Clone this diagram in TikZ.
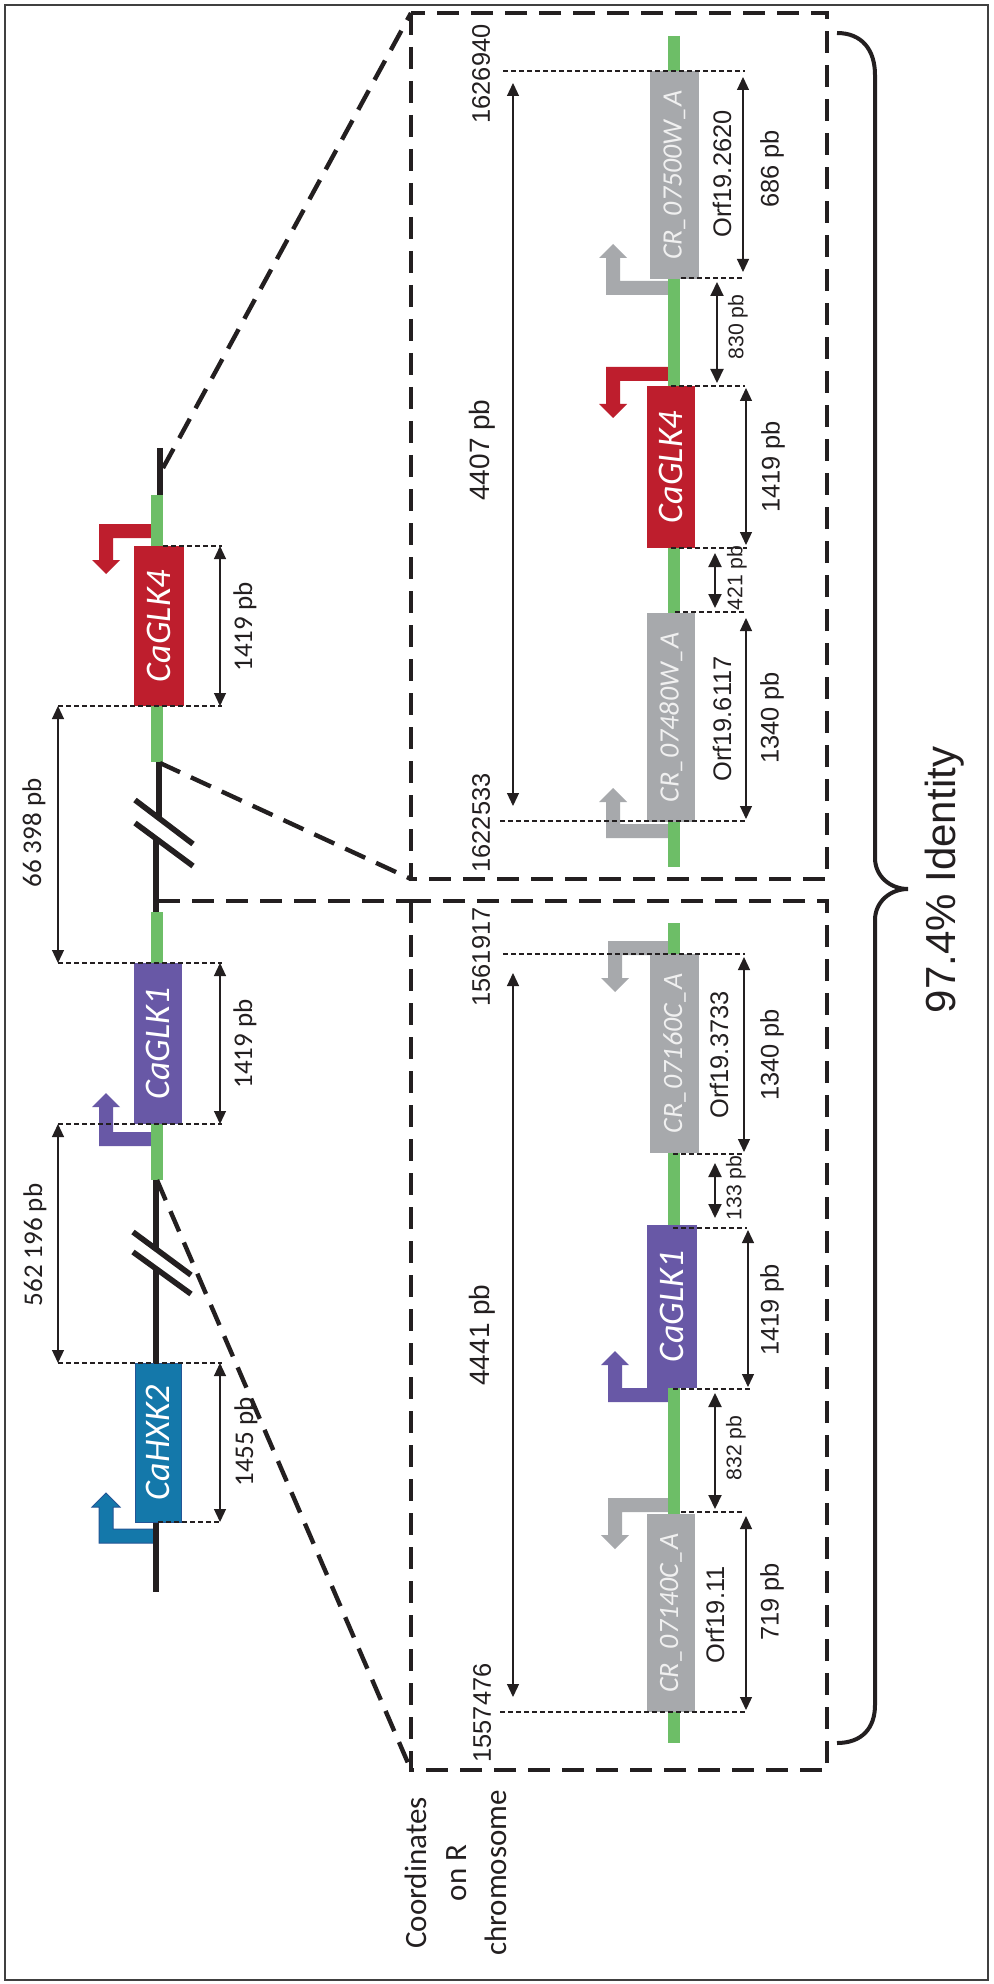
\documentclass[tikz,border=0pt]{standalone}
\usepackage{fontspec}
\setmainfont{Liberation Sans}
\newfontfamily\calfont{Carlito}
\usetikzlibrary{arrows.meta}
\definecolor{chrgreen}{RGB}{109,190,103}
\definecolor{genered}{RGB}{190,30,45}
\definecolor{genepurple}{RGB}{104,88,166}
\definecolor{geneblue}{RGB}{20,120,170}
\definecolor{geneblueedge}{RGB}{35,85,150}
\definecolor{genegray}{RGB}{167,169,172}
\definecolor{inkblack}{RGB}{35,31,32}
\newcommand{\promarrow}[6]{%
\fill[#1] (#2,#4) -- (#3,#4) -- (#3,#6) -- ({#3-7},#6) -- ({#3+7},{#6+14*#5}) -- ({#3+21},#6) -- ({#3+14},#6) -- ({#3+14},{#4+14*#5}) -- (#2,{#4+14*#5}) -- cycle;}
\tikzset{
  chrline/.style={line width=3pt, draw=inkblack},
  greenseg/.style={line width=6pt, draw=chrgreen},
  genebox/.style={rotate=90, inner sep=0pt, anchor=center, font=\calfont\itshape\fontsize{18}{20}\selectfont, text=white},
  crbox/.style={rotate=90, inner sep=0pt, anchor=center, fill=genegray, font=\calfont\itshape\fontsize{14}{16}\selectfont, text=black!6},
  bigdash/.style={line width=2.2pt, draw=inkblack, dash pattern=on 11pt off 6pt},
  thindash/.style={line width=0.6pt, draw=inkblack, dash pattern=on 2.5pt off 1.5pt},
  dimline/.style={line width=0.6pt, draw=inkblack, {Triangle[length=6.5pt,width=6pt]}-{Triangle[length=6.5pt,width=6pt]}},
  dimthick/.style={line width=1pt, draw=inkblack, {Triangle[length=7pt,width=6.5pt]}-{Triangle[length=7pt,width=6.5pt]}},
  lnum/.style={rotate=90, inner sep=0pt, text=inkblack, font=\calfont\fontsize{13.5}{16}\selectfont},
  cnum/.style={rotate=90, inner sep=0pt, text=inkblack, font=\fontsize{12.7}{15}\selectfont},
  bignum/.style={rotate=90, inner sep=0pt, text=inkblack, font=\fontsize{14}{16}\selectfont},
  smallnum/.style={rotate=90, inner sep=0pt, text=inkblack, font=\fontsize{10.6}{13}\selectfont},
}
\begin{document}
\begin{tikzpicture}[x=0.5pt, y=-0.5pt]
\useasboundingbox (0,0) rectangle (993,1984);
\fill[white] (0,0) rectangle (993,1984);
\draw[line width=1pt, draw=black!75] (5,5) rectangle (988,1980);

% ---------- left chromosome ----------
\promarrow{genered}{157}{99}{524}{1}{560}
\promarrow{genepurple}{157}{99}{1146}{-1}{1107}
\filldraw[fill=geneblue, draw=geneblueedge, line width=0.5pt] (156,1543) -- (99,1543) -- (99,1507) -- (92,1507) -- (106,1493) -- (120,1507) -- (113,1507) -- (113,1529) -- (156,1529) -- cycle;

\coordinate (c0) at (160,448);
\coordinate (c1) at (160,495);
\draw[chrline] (c0) -- (c1);
\draw[greenseg] (157,495) -- (157,546);
\draw[greenseg] (157,706) -- (157,762);
\draw[chrline] (159,762) -- (159,818);
\draw[chrline] (156,840) -- (156,912);
\draw[greenseg] (157,912) -- (157,963);
\draw[greenseg] (157,1124) -- (157,1180);
\draw[chrline] (156,1180) -- (156,1248);
\draw[chrline] (156,1268) -- (156,1363);
\draw[chrline] (156,1522) -- (156,1592);
% break marks
\draw[line width=2.8pt, draw=inkblack] (135,800) -- (193,844);
\draw[line width=2.8pt, draw=inkblack] (135,823) -- (193,866);
\draw[line width=2.8pt, draw=inkblack] (133,1232) -- (191,1275);
\draw[line width=2.8pt, draw=inkblack] (133,1252) -- (191,1294);

\node[genebox, fill=genered, minimum width=80pt, minimum height=25pt] (glk4) at (159,626) {CaGLK4};
\node[genebox, fill=genepurple, minimum width=80.5pt, minimum height=24pt] (glk1) at (158,1043.5) {CaGLK1};
\node[genebox, fill=geneblue, draw=geneblueedge, line width=0.5pt, minimum width=79.5pt, minimum height=23pt] (hxk2) at (158,1442.5) {CaHXK2};

% left dimension lines
\draw[thindash] (163,546) -- (222,546);
\draw[thindash] (58,706) -- (222,706);
\draw[thindash] (58,963) -- (222,963);
\draw[thindash] (58,1124) -- (222,1124);
\draw[thindash] (58,1363) -- (222,1363);
\draw[thindash] (158,1522) -- (222,1522);
\coordinate (la1) at (220,546); \coordinate (la2) at (220,706);
\coordinate (lb1) at (58,706); \coordinate (lb2) at (58,963);
\coordinate (lc1) at (220,963); \coordinate (lc2) at (220,1124);
\coordinate (ld1) at (58,1124); \coordinate (ld2) at (58,1363);
\coordinate (le1) at (220,1363); \coordinate (le2) at (220,1522);
\draw[dimline] (la1) -- (la2);
\draw[dimline] (lb1) -- (lb2);
\draw[dimline] (lc1) -- (lc2);
\draw[dimline] (ld1) -- (ld2);
\draw[dimline] (le1) -- (le2);
\node[lnum] (t1419a) at (245,627) {1419 pb};
\node[lnum] (t66398) at (34,833) {66 398 pb};
\node[lnum] (t1419b) at (245,1044) {1419 pb};
\node[lnum] (t562196) at (35,1245) {562 196 pb};
\node[lnum] (t1455) at (246,1442) {1455 pb};

% ---------- inset boxes and zoom lines ----------
\coordinate (ubTL) at (411,13);
\coordinate (ubBL) at (411,879);
\coordinate (lbTL) at (411,901);
\coordinate (lbBL) at (411,1770);
\draw[bigdash] (ubTL) rectangle (827,879);
\draw[bigdash] (lbTL) rectangle (827,1770);
\draw[bigdash] (163,468) -- (ubTL);
\draw[bigdash] (160,763) -- (ubBL);
\draw[bigdash] (158,901) -- (lbTL);
\draw[bigdash] (157,1180) -- (lbBL);

% ---------- upper inset ----------
\promarrow{genegray}{674}{606}{295}{-1}{258}
\promarrow{genered}{674}{606}{367}{1}{404}
\promarrow{genegray}{674}{606}{838}{-1}{802}
\draw[greenseg] (674,36) -- (674,867);
\node[crbox, minimum width=104pt, minimum height=24.5pt] (u1) at (674.5,175) {CR\_07500W\_A};
\node[genebox, fill=genered, minimum width=81pt, minimum height=24pt] (u2) at (671,467) {CaGLK4};
\node[crbox, minimum width=104.5pt, minimum height=24pt] (u3) at (671,717.5) {CR\_07480W\_A};

\draw[thindash] (503,71) -- (745,71);
\draw[thindash] (681,278) -- (745,278);
\draw[thindash] (671,386) -- (745,386);
\draw[thindash] (671,548) -- (747,548);
\draw[thindash] (675,612) -- (745,612);
\draw[thindash] (500,821) -- (745,821);
\coordinate (ua1) at (513,83); \coordinate (ua2) at (513,806);
\coordinate (ub1) at (743,77); \coordinate (ub2) at (743,272);
\coordinate (uc1) at (717,282); \coordinate (uc2) at (717,383);
\coordinate (ud1) at (746,388); \coordinate (ud2) at (746,545);
\coordinate (ue1) at (715,553); \coordinate (ue2) at (715,608);
\coordinate (uf1) at (746,618); \coordinate (uf2) at (746,819);
\draw[dimline] (ua1) -- (ua2);
\draw[dimline] (ub1) -- (ub2);
\draw[dimthick] (uc1) -- (uc2);
\draw[dimline] (ud1) -- (ud2);
\draw[dimthick] (ue1) -- (ue2);
\draw[dimline] (uf1) -- (uf2);
\node[cnum] (n1626940) at (481,74) {1626940};
\node[bignum] (n4407) at (482,450) {4407 pb};
\node[cnum] (n1622533) at (481,823) {1622533};
\node[cnum] (orfa) at (722,174) {Orf19.2620};
\node[cnum] (n686) at (772,169) {686 pb};
\node[smallnum] (n830) at (738,327) {830 pb};
\node[cnum] (n1419c) at (773,467) {1419 pb};
\node[smallnum] (n421) at (737,578) {421 pb};
\node[cnum] (orfb) at (722,719) {Orf19.6117};
\node[cnum] (n1340a) at (772,718) {1340 pb};

% ---------- lower inset ----------
\promarrow{genegray}{674}{608}{941}{1}{978}
\promarrow{genepurple}{674}{608}{1402}{-1}{1365}
\promarrow{genegray}{674}{608}{1498}{1}{1535}
\draw[greenseg] (674,923) -- (674,1743);
\node[crbox, minimum width=99.5pt, minimum height=24.5pt] (l1) at (674.5,1053.5) {CR\_07160C\_A};
\node[genebox, fill=genepurple, minimum width=81.5pt, minimum height=25pt] (l2) at (672,1306.5) {CaGLK1};
\node[crbox, minimum width=99pt, minimum height=24pt] (l3) at (671,1613) {CR\_07140C\_A};

\draw[thindash] (503,954) -- (745,954);
\draw[thindash] (673,1154) -- (745,1154);
\draw[thindash] (673,1228) -- (747,1228);
\draw[thindash] (673,1389) -- (751,1389);
\draw[thindash] (681,1512) -- (745,1512);
\draw[thindash] (500,1712) -- (747,1712);
\coordinate (la1i) at (513,973); \coordinate (la2i) at (513,1697);
\coordinate (lb1i) at (744,957); \coordinate (lb2i) at (744,1152);
\coordinate (lc1i) at (715,1163); \coordinate (lc2i) at (715,1218);
\coordinate (ld1i) at (748,1230); \coordinate (ld2i) at (748,1387);
\coordinate (le1i) at (715,1393); \coordinate (le2i) at (715,1509);
\coordinate (lf1i) at (746,1516); \coordinate (lf2i) at (746,1710);
\draw[dimline] (la1i) -- (la2i);
\draw[dimline] (lb1i) -- (lb2i);
\draw[dimthick] (lc1i) -- (lc2i);
\draw[dimline] (ld1i) -- (ld2i);
\draw[dimthick] (le1i) -- (le2i);
\draw[dimline] (lf1i) -- (lf2i);
\node[cnum] (n1561917) at (481,957) {1561917};
\node[bignum] (n4441) at (482,1335) {4441 pb};
\node[cnum] (n1557476) at (482,1713) {1557476};
\node[cnum] (orfc) at (719,1055) {Orf19.3733};
\node[cnum] (n1340b) at (772,1055) {1340 pb};
\node[smallnum] (n133) at (736,1188) {133 pb};
\node[cnum] (n1419d) at (772,1310) {1419 pb};
\node[smallnum] (n832) at (736,1448) {832 pb};
\node[cnum] (orfd) at (715,1615) {Orf19.11};
\node[cnum] (n719) at (772,1602) {719 pb};

% ---------- brace and identity ----------
\draw[line width=2pt, draw=inkblack] (837,33) .. controls (862,33) and (875,50) .. (875,75) -- (875,858) .. controls (875,876) and (890,889) .. (908,889) .. controls (890,889) and (875,902) .. (875,920) -- (875,1705) .. controls (875,1728) and (862,1743) .. (837,1743);
\node[rotate=90, inner sep=0pt, text=inkblack, font=\fontsize{21}{24}\selectfont] (ident) at (945,880) {97.4\% Identity};

% ---------- coordinates label ----------
\node[rotate=90, inner sep=0pt, align=center, text=inkblack, font=\calfont\fontsize{15.5}{20}\selectfont] (coordlbl) at (456,1873) {Coordinates\\on R\\chromosome};
\end{tikzpicture}
\end{document}
